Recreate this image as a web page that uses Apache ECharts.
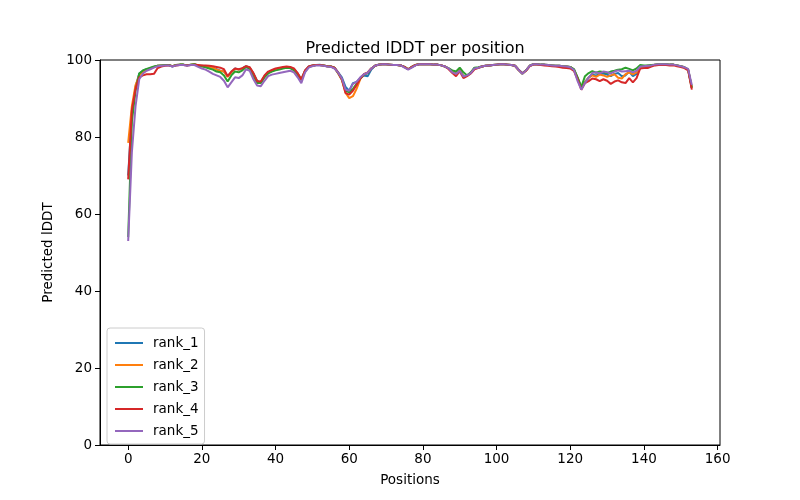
<!DOCTYPE html>
<html>
<head>
<meta charset="utf-8">
<script src="https://cdn.jsdelivr.net/npm/echarts@6/dist/echarts.min.js"></script>
<style>html,body{margin:0;padding:0;background:#fff;}#c{width:800px;height:500px;}</style>
</head>
<body>
<div id="c"></div>
<script>
const seriesNames = ["rank_1","rank_2","rank_3","rank_4","rank_5"];
const xTicks = [0,20,40,60,80,100,120,140,160];
const yTicks = [0,20,40,60,80,100];

const rank_1 = [70,86,93,96.5,97.2,97.6,97.8,98.2,98.5,98.6,
98.7,98.7,98.3,98.7,98.8,98.8,98.6,98.8,98.9,98.6,
98.5,98.4,98.2,98.0,97.6,97.2,97.0,95.8,96.8,97.8,
97.5,97.8,98.4,98.0,96.5,94.6,94.2,95.8,96.8,97.2,
97.6,97.8,98.0,98.2,98.1,97.6,96.5,95.0,97.2,98.3,
98.6,98.7,98.8,98.6,98.4,98.3,98.0,96.8,95.5,93.0,
92.0,94.0,94.3,95.3,96.0,95.8,97.5,98.5,98.8,98.9,
98.9,98.8,98.7,98.7,98.6,98.2,97.6,98.2,98.7,98.9,
98.9,98.9,98.9,98.8,98.8,98.6,98.3,97.8,97.0,96.5,
97.5,95.8,96.0,96.6,97.9,98.0,98.3,98.5,98.6,98.7,
98.8,98.9,98.9,98.8,98.7,98.5,97.5,96.6,97.3,98.5,
98.9,98.9,98.8,98.8,98.7,98.6,98.5,98.5,98.4,98.3,
98.2,97.6,95.3,92.8,94.3,95.5,96.2,96.0,96.3,96.5,
96.2,95.8,96.4,96.6,95.8,96.0,97.0,95.8,96.4,98.0,
98.3,98.5,98.6,98.8,98.9,98.9,98.9,98.8,98.8,98.6,
98.4,98.1,97.5,92.8];

const rank_2 = [78.5,88,93.5,96,97.0,97.5,97.8,98.2,98.5,98.6,
98.7,98.7,98.4,98.7,98.8,98.8,98.6,98.8,98.9,98.6,
98.5,98.4,98.2,98.0,97.5,97.2,97.0,95.6,96.8,97.7,
97.5,97.8,98.3,98.0,96.4,94.5,94.2,95.7,96.7,97.1,
97.5,97.7,98.0,98.1,98.0,97.5,96.4,95.0,97.1,98.2,
98.5,98.7,98.7,98.6,98.4,98.3,98.0,96.5,94.8,91.5,
90.1,90.6,92.5,95.0,96.3,96.8,97.8,98.5,98.8,98.9,
98.9,98.8,98.7,98.7,98.6,98.2,97.6,98.2,98.7,98.9,
98.9,98.9,98.9,98.8,98.8,98.6,98.3,97.8,97.0,96.4,
97.4,95.8,96.0,96.6,97.8,98.0,98.3,98.5,98.6,98.7,
98.8,98.9,98.9,98.8,98.7,98.5,97.4,96.5,97.3,98.5,
98.9,98.9,98.8,98.8,98.7,98.6,98.5,98.5,98.4,98.3,
98.2,97.5,95.2,92.8,94.2,95.4,96.0,95.6,96.2,96.0,
95.6,96.0,96.3,95.4,95.2,96.3,96.8,96.3,96.8,98.0,
98.3,98.5,98.6,98.8,98.9,98.9,98.9,98.8,98.8,98.6,
98.4,98.1,97.5,92.8];

const rank_3 = [54,84,92,96.5,97.3,97.7,98.0,98.3,98.5,98.6,
98.7,98.7,98.4,98.7,98.8,98.8,98.6,98.8,98.9,98.5,
98.3,98.1,97.8,97.5,97.0,96.8,96.0,94.4,96.0,97.0,
96.8,97.3,98.2,97.6,95.8,94.0,94.0,95.5,96.5,97.0,
97.3,97.5,97.8,98.0,97.9,97.3,96.2,94.8,97.0,98.2,
98.5,98.7,98.7,98.6,98.4,98.3,98.0,96.6,95.0,92.0,
91.6,92.5,93.8,95.2,96.2,96.6,97.8,98.5,98.8,98.9,
98.9,98.8,98.7,98.7,98.6,98.2,97.6,98.2,98.7,98.9,
98.9,98.9,98.9,98.8,98.8,98.6,98.3,97.8,97.3,97.0,
98.0,96.8,96.0,96.8,98.0,98.1,98.3,98.5,98.6,98.7,
98.8,98.9,98.9,98.8,98.7,98.5,97.4,96.4,97.3,98.5,
98.9,98.9,98.8,98.8,98.7,98.6,98.5,98.5,98.4,98.3,
98.2,97.6,95.5,93.0,95.8,96.6,97.1,96.7,97.0,96.9,
96.6,97.0,97.2,97.5,97.6,98.0,97.7,97.3,97.8,98.7,
98.6,98.6,98.7,98.8,98.9,98.9,98.9,98.8,98.8,98.6,
98.4,98.1,97.5,92.8];

const rank_4 = [69,87,92.5,95.5,96.0,96.3,96.3,96.4,97.9,98.3,
98.5,98.6,98.4,98.6,98.7,98.7,98.6,98.7,98.8,98.7,
98.6,98.6,98.5,98.4,98.2,98.0,97.6,95.8,97.0,97.8,
97.6,97.9,98.4,98.1,96.6,94.5,94.4,96.0,97.0,97.4,
97.8,98.0,98.2,98.3,98.2,97.8,96.6,94.9,97.3,98.3,
98.6,98.7,98.7,98.6,98.4,98.3,98.0,96.7,95.0,91.4,
91.0,92.0,93.5,95.2,96.3,96.7,97.8,98.5,98.8,98.9,
98.9,98.8,98.7,98.7,98.6,98.2,97.6,98.2,98.7,98.9,
98.9,98.9,98.9,98.8,98.8,98.6,98.3,97.6,96.6,95.8,
97.1,95.3,95.8,96.5,97.6,97.9,98.3,98.5,98.6,98.7,
98.8,98.9,98.9,98.8,98.7,98.5,97.4,96.5,97.2,98.4,
98.8,98.8,98.7,98.6,98.5,98.4,98.3,98.2,98.0,97.9,
97.8,97.2,95.0,92.3,94.0,94.5,95.2,95.0,94.5,95.0,
94.6,93.8,94.4,94.7,94.2,94.0,95.3,94.2,95.3,97.8,
97.9,97.9,98.3,98.6,98.7,98.7,98.7,98.6,98.6,98.4,
98.2,97.9,97.3,92.3];

const rank_5 = [53,76,88,95,96.5,97.2,97.6,98.0,98.4,98.5,
98.6,98.6,98.3,98.6,98.7,98.7,98.5,98.7,98.7,98.2,
97.8,97.5,97.0,96.4,96.0,95.6,94.6,92.9,94.2,95.5,
95.3,96.0,97.6,97.2,95.0,93.4,93.2,94.6,95.8,96.2,
96.4,96.6,96.8,97.0,97.2,96.8,95.5,94.0,96.8,98.0,
98.4,98.6,98.6,98.5,98.3,98.2,97.8,96.7,95.2,92.3,
92.0,93.8,94.3,95.5,96.3,96.7,97.8,98.5,98.8,98.9,
98.9,98.8,98.7,98.7,98.6,98.0,97.5,98.0,98.6,98.9,
98.9,98.9,98.9,98.8,98.8,98.6,98.3,97.8,96.8,96.4,
97.2,95.7,96.0,96.6,97.8,98.0,98.3,98.5,98.6,98.7,
98.8,98.9,98.9,98.8,98.7,98.5,97.4,96.4,97.3,98.5,
98.9,98.9,98.8,98.8,98.7,98.6,98.5,98.5,98.4,98.3,
98.1,97.4,94.5,92.3,94.0,95.4,96.6,96.8,96.5,97.0,
96.8,96.5,97.0,97.3,97.0,97.1,97.2,96.8,97.2,98.3,
98.4,98.5,98.6,98.8,98.9,98.9,98.9,98.8,98.8,98.6,
98.4,98.1,97.7,93.5];

const allData = [rank_1, rank_2, rank_3, rank_4, rank_5];
const colors = ["#1f77b4","#ff7f0e","#2ca02c","#d62728","#9467bd"];
const FONT = "DejaVu Sans";

const chart = echarts.init(document.getElementById('c'), null, {renderer:'canvas'});
chart.setOption({
  animation: false,
  backgroundColor: '#fff',
  color: colors,
  textStyle: {fontFamily: FONT},
  title: {
    text: 'Predicted lDDT per position',
    left: 410, top: 36, textAlign: 'center',
    textStyle: {fontFamily: FONT, fontSize: 16, fontWeight: 'normal', color: '#000'}
  },
  grid: {left: 100, right: 80, top: 60, bottom: 55, show: true, borderColor: '#000', borderWidth: 1, backgroundColor: 'transparent'},
  legend: {
    orient: 'vertical', left: 107, top: 328,
    icon: 'rect', itemWidth: 28, itemHeight: 2, itemGap: 8,
    padding: [8, 6, 6, 8],
    borderColor: '#cccccc', borderWidth: 1, borderRadius: 3, backgroundColor: 'rgba(255,255,255,0.8)',
    textStyle: {fontFamily: FONT, fontSize: 13.5, color: '#000', padding: [0,0,0,5]},
    data: seriesNames
  },
  xAxis: {
    type: 'value', min: -7.65, max: 160.65,
    name: 'Positions', nameLocation: 'middle', nameGap: 28,
    nameTextStyle: {fontFamily: FONT, fontSize: 13.5, color: '#000'},
    axisLine: {show: true, onZero: false, lineStyle: {color: '#000'}},
    axisTick: {show: true, inside: false, length: 5, lineStyle: {color: '#000'}, customValues: xTicks},
    axisLabel: {show: true, margin: 7, color: '#000', fontFamily: FONT, fontSize: 13.5, customValues: xTicks},
    splitLine: {show: false}
  },
  yAxis: {
    type: 'value', min: 0, max: 100, interval: 20,
    name: 'Predicted lDDT', nameLocation: 'middle', nameGap: 44, nameRotate: 90,
    nameTextStyle: {fontFamily: FONT, fontSize: 13.5, color: '#000'},
    axisLine: {show: true, onZero: false, lineStyle: {color: '#000'}},
    axisTick: {show: true, inside: false, length: 5, lineStyle: {color: '#000'}, customValues: yTicks},
    axisLabel: {show: true, margin: 8, color: '#000', fontFamily: FONT, fontSize: 13.5, customValues: yTicks},
    splitLine: {show: false}
  },
  series: seriesNames.map((n, i) => ({
    name: n, type: 'line', showSymbol: false, symbol: 'none',
    lineStyle: {width: 2, color: colors[i]},
    itemStyle: {color: colors[i]},
    data: allData[i].map((v, k) => [k, v])
  }))
});
</script>
</body>
</html>
